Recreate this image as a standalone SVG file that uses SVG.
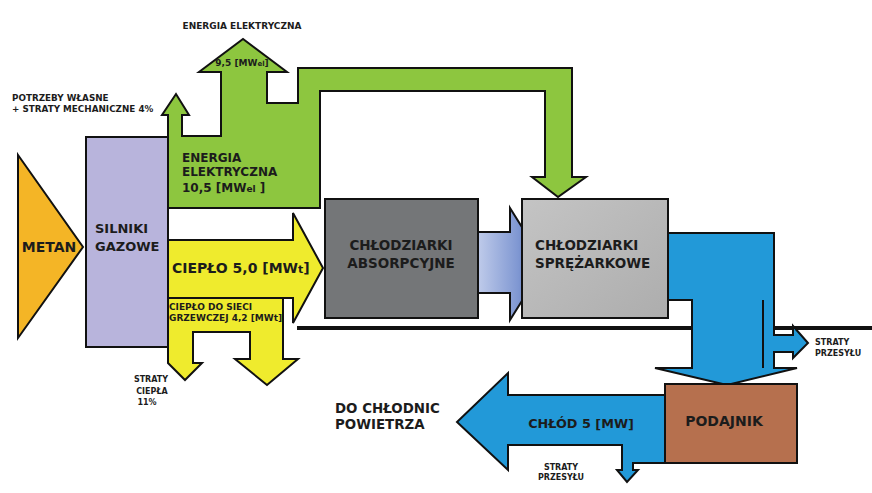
<svg xmlns="http://www.w3.org/2000/svg" width="872" height="493" viewBox="0 0 872 493">
<style>
.t{font-family:"DejaVu Sans","Liberation Sans",sans-serif;font-weight:bold;fill:#1c1c1c}
.s{stroke:#111;stroke-width:2;stroke-linejoin:miter}
.green{fill:#8dc63f}
.yellow{fill:#efeb2d}
.blue{fill:#2299d8}
</style>
<defs>
<linearGradient id="gBlue" x1="0" y1="0" x2="1" y2="0">
<stop offset="0" stop-color="#bfcbea"/>
<stop offset="0.6" stop-color="#7f97d2"/>
<stop offset="1" stop-color="#3d5aa8"/>
</linearGradient>
<linearGradient id="gGray" x1="0" y1="0" x2="1" y2="1">
<stop offset="0" stop-color="#c4c4c4"/>
<stop offset="1" stop-color="#adadad"/>
</linearGradient>
</defs>
<rect width="872" height="493" fill="#ffffff"/>

<g id="connectors">
<line x1="297" y1="328" x2="872" y2="328" stroke="#111" stroke-width="4"/>
<!-- green electricity -->
<polygon class="green s" points="168,208 168,115 162,115 176,94 189,115 182,115 182,136 221,136 221,72 199,72 243,39 287,72 267,72 267,103 298,103 298,68 572,68 572,177 586,177 558,197 532,177 545,177 545,91 320,91 320,208"/>
<!-- yellow heat down branch -->
<polygon class="yellow s" points="168,298 283,298 283,359 298,359 267,385 235,359 250,359 250,332 193,332 193,363 202,363 185,380 168,363"/>
<!-- yellow heat right arrow -->
<polygon class="yellow s" points="168,240 293,240 293,213 323,268 293,323 293,298 168,298"/>
<!-- absorption to compressor -->
<polygon fill="url(#gBlue)" class="s" points="478,232 510,232 510,208 545,264 510,320 510,293 478,293"/>
<!-- blue cold down -->
<polygon class="blue s" points="668,233 774,233 774,335 793,335 793,326 808,343 793,358 793,352 774,352 774,368 797,368 727,385 655,368 692,368 692,300 668,300"/>
<line x1="763" y1="300" x2="763" y2="368" class="s"/>
<!-- blue cold left -->
<polygon class="blue s" points="665,395 508,395 508,373 457,422 508,470 508,445 622,445 622,470 617,470 627,482 638,470 633,470 633,463 665,463"/>

<text class="t" x="242" y="29" font-size="9" text-anchor="middle">ENERGIA ELEKTRYCZNA</text>
<text class="t" x="242" y="66" font-size="9" text-anchor="middle">9,5 [MW<tspan font-size="7">el</tspan>]</text>
<text class="t" x="12" y="101" font-size="8.8">POTRZEBY WŁASNE</text>
<text class="t" x="12" y="112" font-size="8.8">+ STRATY MECHANICZNE 4%</text>
<text class="t" x="182" y="162" font-size="12">ENERGIA</text>
<text class="t" x="182" y="176" font-size="12">ELEKTRYCZNA</text>
<text class="t" x="182" y="192" font-size="12">10,5 [MW<tspan font-size="9">el</tspan> ]</text>
<text class="t" x="172" y="273" font-size="14">CIEPŁO 5,0 [MW<tspan font-size="11">t</tspan>]</text>
<text class="t" x="169" y="310" font-size="9">CIEPŁO DO SIECI</text>
<text class="t" x="169" y="321" font-size="9">GRZEWCZEJ 4,2 [MWt]</text>
<text class="t" x="151" y="382" font-size="8" text-anchor="middle">STRATY</text>
<text class="t" x="152" y="394" font-size="8" text-anchor="middle">CIEPŁA</text>
<text class="t" x="147" y="405" font-size="8" text-anchor="middle">11%</text>
<text class="t" x="815" y="345" font-size="8">STRATY</text>
<text class="t" x="815" y="356" font-size="8">PRZESYŁU</text>
<text class="t" x="581" y="428" font-size="12.8" text-anchor="middle" fill="#1a2a4a">CHŁÓD 5 [MW]</text>
<text class="t" x="561" y="470" font-size="8" text-anchor="middle">STRATY</text>
<text class="t" x="561" y="480" font-size="8" text-anchor="middle">PRZESYŁU</text>
<text class="t" x="335" y="413" font-size="13.4">DO CHŁODNIC</text>
<text class="t" x="335" y="429" font-size="13.4">POWIETRZA</text>
</g>

<g id="metan">
<polygon fill="#f4b526" class="s" points="18,155 83,247 18,338"/>
<text class="t" x="49" y="252" font-size="14" text-anchor="middle">METAN</text>
</g>

<g id="silniki">
<rect x="86" y="137" width="82" height="210" fill="#b8b4dc" class="s"/>
<text class="t" x="95" y="233" font-size="13">SILNIKI</text>
<text class="t" x="95" y="251" font-size="13">GAZOWE</text>
</g>

<g id="chlodziarki-absorpcyjne">
<rect x="325" y="199" width="153" height="119" fill="#747678" class="s"/>
<text class="t" x="401" y="250" font-size="13.5" text-anchor="middle">CHŁODZIARKI</text>
<text class="t" x="401" y="268" font-size="13.5" text-anchor="middle">ABSORPCYJNE</text>
</g>

<g id="chlodziarki-sprezarkowe">
<rect x="522" y="199" width="146" height="119" fill="url(#gGray)" class="s"/>
<text class="t" x="535" y="250" font-size="13.5">CHŁODZIARKI</text>
<text class="t" x="535" y="268" font-size="13.5">SPRĘŻARKOWE</text>
</g>

<g id="podajnik">
<rect x="665" y="384" width="132" height="79" fill="#b6704e" class="s"/>
<text class="t" x="724" y="426" font-size="14" text-anchor="middle">PODAJNIK</text>
</g>
</svg>
